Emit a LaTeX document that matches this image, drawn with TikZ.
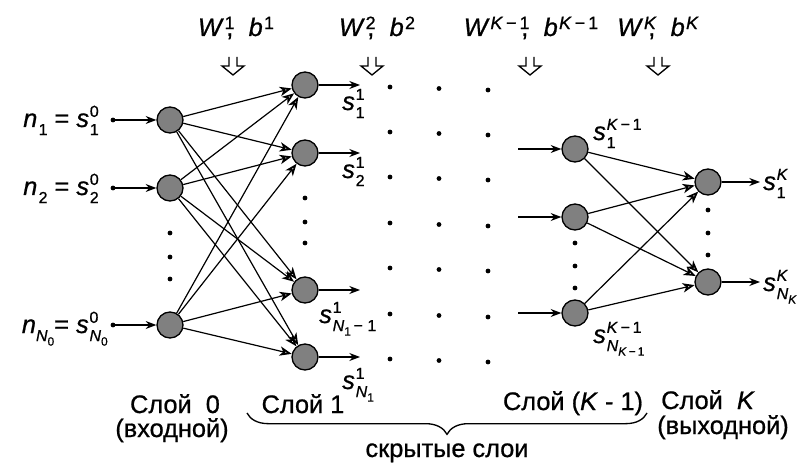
\documentclass[tikz,border=0pt]{standalone}
\usepackage{fontspec}
\setmainfont{Liberation Sans}[FakeBold=0.8,AutoFakeBold=0.8]
\usetikzlibrary{arrows.meta,decorations.pathreplacing}
\definecolor{ngray}{RGB}{128,128,128}
\newcommand\mainsz{\fontsize{19}{21}\selectfont\bfseries}
\newcommand\scr{\fontsize{12}{12}\selectfont}
\newcommand\wscr{\fontsize{13.5}{13.5}\selectfont}
\newcommand\scrr{\fontsize{9}{9}\selectfont}
\newcommand\sx[3]{#1\kern.03em\ooalign{\raisebox{.4em}{\scr #2}\cr\raisebox{-.32em}{\scr #3}\cr}}
\newcommand\wx[2]{#1\kern.03em\ooalign{\raisebox{.27em}{\wscr #2}\cr\hfill,\kern.05em\cr}}
\newcommand\bx[2]{#1\kern.05em\raisebox{.27em}{\wscr #2}}
\newcommand\iN[1]{\textit{N}\raisebox{-.28em}{\scrr #1}}
\newcommand\hollowdown[1]{\draw[line width=1pt,line join=miter] (#1-4,57) -- (#1-4,66) -- (#1-11,66) -- (#1,75) -- (#1+11,66) -- (#1+4,66) -- (#1+4,57);}
\begin{document}
\begin{tikzpicture}[x=0.75pt,y=-0.75pt,
  font=\mainsz,
  neuron/.style={circle,draw,fill=ngray,minimum size=19.5pt,inner sep=0pt,line width=1pt},
  conn/.style={line width=0.9pt,-{Stealth[open,length=9pt,width=7pt,inset=2.5pt,line width=1.3pt]}},
  inarr/.style={line width=1pt,-{Stealth[length=8pt,width=6pt]}},
  lbl/.style={inner sep=0pt,anchor=base west}]
\useasboundingbox (0,0) rectangle (806,463);
% neurons
\node[neuron] (a1) at (170,120) {};
\node[neuron] (a2) at (170,188) {};
\node[neuron] (a3) at (170,325) {};
\node[neuron] (b1) at (305,85) {};
\node[neuron] (b2) at (305,153) {};
\node[neuron] (b3) at (305,290) {};
\node[neuron] (b4) at (305,357) {};
\node[neuron] (c1) at (575,149) {};
\node[neuron] (c2) at (575,217) {};
\node[neuron] (c3) at (575,313) {};
\node[neuron] (d1) at (708,182) {};
\node[neuron] (d2) at (708,282) {};
% free ends
\coordinate (i1) at (113,120);
\coordinate (i2) at (113,188);
\coordinate (i3) at (113,325);
\coordinate (o1) at (360,85);
\coordinate (o2) at (360,153);
\coordinate (o3) at (360,290);
\coordinate (o4) at (360,357);
\coordinate (p1) at (518,149);
\coordinate (p2) at (518,217);
\coordinate (p3) at (518,313);
\coordinate (q1) at (760,182);
\coordinate (q2) at (760,282);
% connectors
\foreach \i in {1,2,3}{\fill (i\i) circle[radius=1.8pt]; \draw[inarr] (i\i) -- (a\i);}
\foreach \i in {1,2,3}{\foreach \j in {1,...,4}{\draw[conn] (a\i) -- (b\j);}}
\foreach \j in {1,...,4}{\draw[inarr] (b\j) -- (o\j);}
\foreach \i in {1,2,3}{\draw[inarr] (p\i) -- (c\i);}
\foreach \i in {1,2,3}{\foreach \j in {1,2}{\draw[conn] (c\i) -- (d\j);}}
\foreach \j in {1,2}{\draw[inarr] (d\j) -- (q\j);}
% vertical dots in layers
\foreach \y in {233,257,279}{\fill (170,\y) circle[radius=1.8pt];}
\foreach \y in {198,222,243}{\fill (305,\y) circle[radius=1.8pt];}
\foreach \y in {243,266,288}{\fill (575,\y) circle[radius=1.8pt];}
\foreach \y in {210,233,255}{\fill (708,\y) circle[radius=1.8pt];}
% grid of dots
\foreach \c/\x in {0/390,1/439,2/488}{
  \foreach \y in {87,132,177,223,268,314,359}{\fill (\x,\y+1.5*\c) circle[radius=1.8pt];}}
% input labels
\node[inner sep=0pt,anchor=base east] (n1) at (99,127) {\textit{n}\kern.05em\raisebox{-.32em}{\scr 1} =\ \sx{\textit{s}}{0}{1}};
\node[inner sep=0pt,anchor=base east] (n2) at (99,195) {\textit{n}\kern.05em\raisebox{-.32em}{\scr 2} =\ \sx{\textit{s}}{0}{2}};
\node[inner sep=0pt,anchor=base east] (n3) at (108,333) {\textit{n}\raisebox{-.32em}{\scr\iN{0}}=\ \sx{\textit{s}}{0}{\iN{0}}};
% layer 1 output labels
\node[lbl] (s11) at (342,110) {\sx{\textit{s}}{1}{1}};
\node[lbl] (s12) at (342,178) {\sx{\textit{s}}{1}{2}};
\node[lbl] (s13) at (319,323) {\sx{\textit{s}}{1}{\iN{1}\,− 1}};
\node[lbl] (s14) at (342,389) {\sx{\textit{s}}{1}{\iN{1}}};
% layer K-1 labels
\node[lbl] (sk1) at (593,140) {\sx{\textit{s}}{\textit{K}\,−\,1}{1}};
\node[lbl] (sk2) at (593,343) {\sx{\textit{s}}{\textit{K}\,−\,1}{\iN{\textit{K}\,−\,1}}};
% output labels
\node[lbl] (so1) at (763,190) {\sx{\textit{s}}{\textit{K}}{1}};
\node[lbl] (so2) at (763,291) {\sx{\textit{s}}{\textit{K}}{\iN{\textit{K}}}};
% weights
\node[inner sep=0pt,anchor=base] (w1) at (236,36) {\wx{\textit{W}}{1}\ \ \bx{\textit{b}}{1}};
\node[inner sep=0pt,anchor=base] (w2) at (377,36) {\wx{\textit{W}}{2}\ \ \bx{\textit{b}}{2}};
\node[inner sep=0pt,anchor=base] (w3) at (531,36) {\wx{\textit{W}}{\textit{K}\,−\,1}\ \ \bx{\textit{b}}{\textit{K}\,−\,1}};
\node[inner sep=0pt,anchor=base] (w4) at (658,36) {\wx{\textit{W}}{\textit{K}}\ \ \bx{\textit{b}}{\textit{K}}};
\hollowdown{233}
\hollowdown{372}
\hollowdown{530}
\hollowdown{658}
% bottom labels
\node[inner sep=0pt,anchor=base] (t0) at (175,413) {Слой\ \ 0};
\node[inner sep=0pt,anchor=base] (t0b) at (172,437) {(входной)};
\node[inner sep=0pt,anchor=base] (t1) at (303,413) {Слой 1};
\node[inner sep=0pt,anchor=base] (t2) at (573,410) {Слой (\textit{K} - 1)};
\node[inner sep=0pt,anchor=base] (t3) at (708,409) {Слой\ \ \textit{K}};
\node[inner sep=0pt,anchor=base] (t3b) at (723,434) {(выходной)};
\draw[decorate,decoration={brace,amplitude=16pt},line width=1pt] (647,413) -- (247,413);
\node[inner sep=0pt,anchor=base] (hid) at (447,457) {скрытые слои};
\end{tikzpicture}
\end{document}
